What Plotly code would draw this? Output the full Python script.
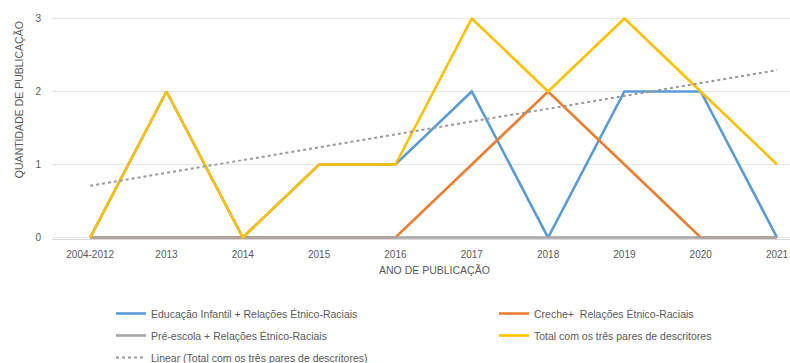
import numpy as np
import plotly.graph_objects as go

categories = ["2004-2012", "2013", "2014", "2015", "2016", "2017", "2018", "2019", "2020", "2021"]
educacao_infantil = [0, 2, 0, 1, 1, 2, 0, 2, 2, 0]
creche = [0, 0, 0, 0, 0, 1, 2, 1, 0, 0]
pre_escola = [0, 0, 0, 0, 0, 0, 0, 0, 0, 0]
total = [0, 2, 0, 1, 1, 3, 2, 3, 2, 1]
y_ticks = [0, 1, 2, 3]

xs = np.arange(len(categories))
slope, intercept = np.polyfit(xs + 1, total, 1)
trend = intercept + slope * (xs + 1)

W, H = 790, 363
L, R, T, B = 52, 0, 16.5, 123.5
PW, PH = W - L - R, H - T - B

fig = go.Figure()
series = [
    ("Educação Infantil + Relações Étnico-Raciais", educacao_infantil, "#5B9BD5", "legend"),
    ("Creche+  Relações Étnico-Raciais", creche, "#ED7D31", "legend2"),
    ("Pré-escola + Relações Étnico-Raciais", pre_escola, "#A5A5A5", "legend"),
    ("Total com os três pares de descritores", total, "#FFC000", "legend2"),
]
for i, (name, vals, col, lg) in enumerate(series):
    fig.add_trace(go.Scatter(x=categories, y=vals, name=name, mode="lines", legend=lg,
                             legendgroup=f"g{i}", line=dict(color=col, width=2.6)))
fig.add_trace(go.Scatter(x=categories, y=trend, name="Linear (Total com os três pares de descritores)",
                         mode="lines", legend="legend", legendgroup="g4",
                         line=dict(color="#999999", width=2, dash="dot")))

font_col = "#595959"
leg_common = dict(orientation="v", xref="container", yref="container", xanchor="left",
                  yanchor="top", tracegroupgap=3, itemwidth=30,
                  font=dict(size=10.5, color=font_col), bgcolor="rgba(0,0,0,0)")
fig.update_layout(
    width=W, height=H,
    margin=dict(l=L, r=R, t=T, b=B, autoexpand=False),
    paper_bgcolor="white", plot_bgcolor="white",
    font=dict(family="Liberation Sans", size=10, color=font_col),
    showlegend=True,
    legend=dict(x=111 / W, y=1 - 299 / H, **leg_common),
    legend2=dict(x=494 / W, y=1 - 299 / H, **leg_common),
    xaxis=dict(type="category", range=[-0.5, 9.17], showgrid=False,
               showline=True, linecolor="#D9D9D9", linewidth=1,
               ticks="", tickfont=dict(size=10, color=font_col), ticklabelstandoff=6),
    yaxis=dict(range=[-0.02, 3.02], tickvals=y_ticks, showgrid=True, gridcolor="#E7E7E7",
               zeroline=False, showline=False, tickfont=dict(size=10, color=font_col),
               ticklabelstandoff=10),
    annotations=[
        dict(text="QUANTIDADE DE PUBLICAÇÃO", textangle=-90, xref="paper", yref="paper",
             x=(19 - L) / PW, y=1 - (100 - T) / PH, xanchor="center", yanchor="middle",
             showarrow=False, font=dict(size=10.5, color=font_col)),
        dict(text="ANO DE PUBLICAÇÃO", xref="paper", yref="paper",
             x=(434 - L) / PW, y=1 - (271 - T) / PH, xanchor="center", yanchor="middle",
             showarrow=False, font=dict(size=10.5, color=font_col)),
    ],
)
fig.write_html("out.html")
